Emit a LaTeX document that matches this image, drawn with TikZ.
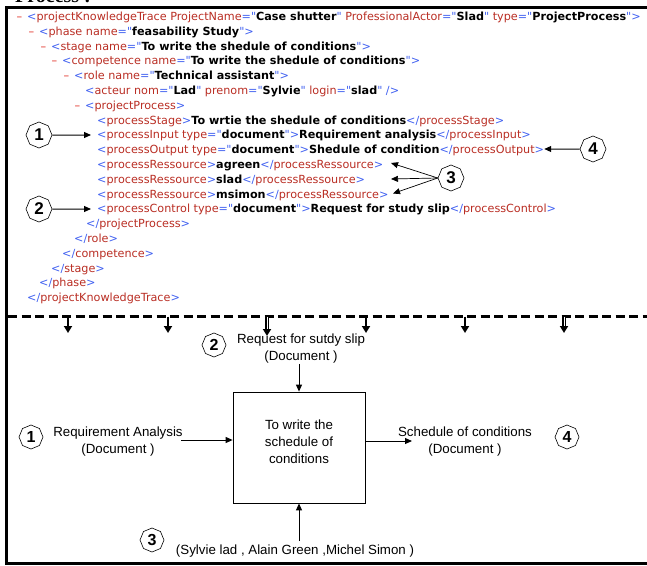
\documentclass[tikz,border=0pt]{standalone}
\usepackage{fontspec}
\setmainfont{DejaVu Sans}
\newfontfamily\xmlfont{DejaVu Sans}
\newfontfamily\arialfont{Liberation Sans}
\newfontfamily\titlefont{Liberation Serif}
\usetikzlibrary{arrows.meta,shapes.geometric}

\definecolor{xmlblue}{RGB}{64,96,240}
\definecolor{xmlred}{RGB}{185,45,35}
\definecolor{xmldash}{RGB}{225,50,40}

% markup, tag names, values and the fold mark of the XML listing
\newcommand\xm[1]{\textcolor{xmlblue}{#1}}
\newcommand\xt[1]{\textcolor{xmlred}{#1}}
\newcommand\xv[1]{\textbf{#1}}
\newcommand\xd{\textcolor{xmldash}{–}}

\tikzset{
  xml/.style={anchor=base west, inner sep=0pt, font=\xmlfont\fontsize{11.2}{11.2}\selectfont},
  numtag/.style={regular polygon, regular polygon sides=8, shape border rotate=22.5,
    draw, line width=0.6pt, inner sep=0pt, minimum size=26pt,
    font=\arialfont\bfseries\fontsize{17}{17}\selectfont},
  numsmall/.style={numtag, minimum size=24pt, font=\arialfont\bfseries\fontsize{16}{16}\selectfont},
  arr/.style={line width=1pt, -{Triangle[length=7pt,width=6pt]}},
  arrthin/.style={line width=0.7pt, -{Triangle[length=7pt,width=6pt]}},
  lab/.style={align=center, inner sep=0pt, font=\arialfont\fontsize{13.3}{17}\selectfont},
  tick/.style={line width=2pt, -{Triangle[length=7pt,width=8pt]}},
}

\begin{document}
\begin{tikzpicture}[x=1pt,y=-1pt]
\useasboundingbox (0,0) rectangle (647,565);

% heading, cut by the page edge
\node[anchor=base west, inner sep=0pt, font=\titlefont\bfseries\fontsize{20}{20}\selectfont] (title) at (15,2.5) {Process :};

% frame
\draw[line width=3pt] (647,7) -- (6,7) -- (6,563) -- (647,563);

% ---------------- XML listing ----------------
\node[xml] (d1) at (16.5,20.5) {\xd};
\node[xml] (l1) at (27,20.5) {\xm{<}\xt{projectKnowledgeTrace ProjectName}\xm{="}\xv{Case shutter}\xm{"} \xt{ProfessionalActor}\xm{="}\xv{Slad}\xm{"} \xt{type}\xm{="}\xv{ProjectProcess}\xm{">}};
\node[xml] (d2) at (28.5,35.3) {\xd};
\node[xml] (l2) at (39,35.3) {\xm{<}\xt{phase name}\xm{="}\xv{feasability Study}\xm{">}};
\node[xml] (d3) at (40.5,50.1) {\xd};
\node[xml] (l3) at (51,50.1) {\xm{<}\xt{stage name}\xm{="}\xv{To write the shedule of conditions}\xm{">}};
\node[xml] (d4) at (51.5,64.9) {\xd};
\node[xml] (l4) at (62,64.9) {\xm{<}\xt{competence name}\xm{="}\xv{To write the shedule of conditions}\xm{">}};
\node[xml] (d5) at (63.5,79.7) {\xd};
\node[xml] (l5) at (74,79.7) {\xm{<}\xt{role name}\xm{="}\xv{Technical assistant}\xm{">}};
\node[xml] (l6) at (85,94.5) {\xm{<}\xt{acteur nom}\xm{="}\xv{Lad}\xm{"} \xt{prenom}\xm{="}\xv{Sylvie}\xm{"} \xt{login}\xm{="}\xv{slad}\xm{" />}};
\node[xml] (d7) at (74.5,109.3) {\xd};
\node[xml] (l7) at (85,109.3) {\xm{<}\xt{projectProcess}\xm{>}};
\node[xml] (l8) at (97,124.1) {\xm{<}\xt{processStage}\xm{>}\xv{To wrtie the shedule of conditions}\xm{</}\xt{processStage}\xm{>}};
\node[xml] (l9) at (97,138.9) {\xm{<}\xt{processInput type}\xm{="}\xv{document}\xm{">}\xv{Requirement analysis}\xm{</}\xt{processInput}\xm{>}};
\node[xml] (l10) at (97,153.7) {\xm{<}\xt{processOutput type}\xm{="}\xv{document}\xm{">}\xv{Shedule of condition}\xm{</}\xt{processOutput}\xm{>}};
\node[xml] (l11) at (97,168.5) {\xm{<}\xt{processRessource}\xm{>}\xv{agreen}\xm{</}\xt{processRessource}\xm{>}};
\node[xml] (l12) at (97,183.3) {\xm{<}\xt{processRessource}\xm{>}\xv{slad}\xm{</}\xt{processRessource}\xm{>}};
\node[xml] (l13) at (97,198.1) {\xm{<}\xt{processRessource}\xm{>}\xv{msimon}\xm{</}\xt{processRessource}\xm{>}};
\node[xml] (l14) at (97,212.9) {\xm{<}\xt{processControl type}\xm{="}\xv{document}\xm{">}\xv{Request for study slip}\xm{</}\xt{processControl}\xm{>}};
\node[xml] (l15) at (86,227.7) {\xm{</}\xt{projectProcess}\xm{>}};
\node[xml] (l16) at (74,242.5) {\xm{</}\xt{role}\xm{>}};
\node[xml] (l17) at (62,257.3) {\xm{</}\xt{competence}\xm{>}};
\node[xml] (l18) at (51,272.1) {\xm{</}\xt{stage}\xm{>}};
\node[xml] (l19) at (39,286.9) {\xm{</}\xt{phase}\xm{>}};
\node[xml] (l20) at (27,301.7) {\xm{</}\xt{projectKnowledgeTrace}\xm{>}};

% callouts on the listing
\node[numtag] (t1) at (39,135) {1};
\node[numtag] (t2) at (39,209) {2};
\node[numtag] (t3) at (451,178) {3};
\node[numtag] (t4) at (593,149) {4};
\coordinate (r1) at (391,163);
\coordinate (r2) at (391,179);
\coordinate (r3) at (393,193.5);

\draw[arr, shorten >=6pt] (t1) -- (t1 -| l9.west);
\draw[arr, shorten >=6pt] (t2) -- (t2 -| l14.west);
\draw[arr] (t4) -- (t4 -| l10.east);
\draw[arrthin] (t3.west) -- (r1);
\draw[arrthin] (t3.west) -- (r2);
\draw[arrthin] (t3.west) -- (r3);

% ---------------- separator ----------------
\draw[line width=2.6pt, dash pattern=on 9pt off 4.5pt] (8,316.5) coordinate (sepA) -- (647,316.5) coordinate (sepB);
\foreach \i/\x/\e in {1/68/333,2/168/333,4/366/333,5/465/333}{
  \coordinate (ts\i) at (\x,316.5);
  \coordinate (te\i) at (\x,\e);
  \draw[tick] (ts\i) -- (te\i);
}
\foreach \i/\x/\e in {3/267/336,6/564/333}{
  \coordinate (ts\i) at (\x,316.5);
  \coordinate (te\i) at (\x,\e);
  \draw[line width=2pt, double, double distance=0.8pt, -{Triangle[length=7pt,width=8pt]}] (ts\i) -- (te\i);
}

% ---------------- activity diagram ----------------
\node[draw, line width=0.8pt, minimum width=132pt, minimum height=111pt, inner sep=0pt] (proc) at (299,447.5) {};
\node[lab] (proctxt) at (299,442) {To write the\\schedule of\\conditions};

\node[lab] (inlab) at (118,442) {Requirement Analysis\\(Document )};
\node[lab] (outlab) at (465,442) {Schedule of conditions\\(Document )};
\node[lab] (ctllab) at (301,349) {Request for sutdy slip\\(Document )};
\node[lab, anchor=base] (meclab) at (295,554) {(Sylvie lad , Alain Green ,Michel Simon )};

\node[numsmall] (b1) at (31,437) {1};
\node[numsmall] (b2) at (214,345) {2};
\node[numsmall] (b3) at (152,540) {3};
\node[numsmall] (b4) at (567,437) {4};

\coordinate (inend) at (181,440);
\coordinate (outend) at (412,441);
\draw[arr] (inend) -- (inend -| proc.west);
\draw[arr] (proc.east |- outend) -- (outend);
\draw[arr] (proc.north |- ctllab.south) -- (proc.north);
\draw[arr] (proc.south |- 0,541) -- (proc.south);
\end{tikzpicture}
\end{document}
